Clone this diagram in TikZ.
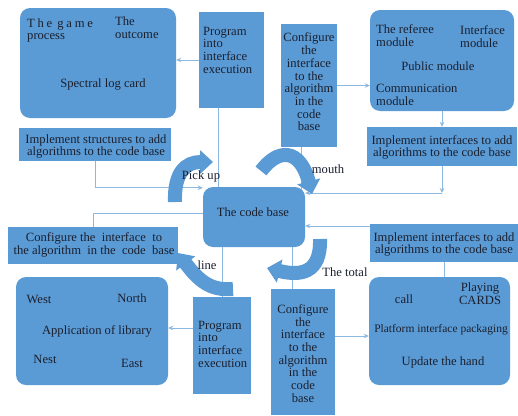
\documentclass[tikz,border=0pt]{standalone}
\usepackage{fontspec}
\setmainfont{Liberation Serif}
\usetikzlibrary{arrows.meta,fit}
\definecolor{boxc}{HTML}{5B9BD5}
\definecolor{linec}{HTML}{8DB8E0}
\definecolor{txtc}{HTML}{1A1F2E}
\tikzset{
  blk/.style={fill=boxc, draw=none, inner sep=0pt},
  rblk/.style={blk, rounded corners=10pt},
  lbl/.style={text=txtc, font=\fontsize{12.6}{12.7}\selectfont, inner sep=0pt, align=center},
  lbll/.style={lbl, align=left},
  conn/.style={draw=linec, line width=0.8pt},
  arr/.style={conn, -{Stealth[length=5pt,width=4.5pt]}},
  bigarr/.style={draw=boxc, line width=14pt, -{Triangle[length=13pt,width=23pt]}},
}
\begin{document}
\begin{tikzpicture}[x=1pt,y=-1pt]
\fill[white] (0,0) rectangle (518,415);
\useasboundingbox (0,0) rectangle (518,415);

% boxes
\node[rblk, fit={(20,8) (176,118)}] (game) {};
\node[blk, fit={(19,128) (171,161)}] (implA) {};
\node[blk, fit={(199,12) (264,108)}] (progA) {};
\node[blk, fit={(281,24) (337,147)}] (confA) {};
\node[rblk, fit={(370,10) (514,111)}] (ref) {};
\node[blk, fit={(367,127) (517,166)}] (implB) {};
\node[rblk, fit={(203,187) (305,247)}] (cb) {};
\node[blk, fit={(8,227) (178,264)}] (confB) {};
\node[rblk, fit={(16,277) (168,385)}] (app) {};
\node[blk, fit={(193,297) (251,394)}] (progB) {};
\node[blk, fit={(370,224) (518,262)}] (implC) {};
\node[rblk, fit={(369,277) (510,385)}] (play) {};
\node[blk, fit={(271,289) (335,415)}] (confC) {};

% connectors
\draw[arr] (progA.west) -- (progA.west -| game.east);
\coordinate (s2) at ([xshift=-13.5pt]progA.south);
\draw[conn] (s2) -- (s2 |- cb.north);
\coordinate (s3) at ([yshift=-1pt]cb.north west);
\draw[arr] (implA.south) |- (s3);
\draw[arr] (confA.east) -- (confA.east -| ref.west);
\coordinate (s5) at ([xshift=-8pt]confA.south);
\draw[conn] (s5) -- ([yshift=-3pt]s5 |- cb.north);
\draw[arr] (ref.south) -- (implB.north);
\coordinate (k1) at (442,193);
\draw[arr] (implB.south) -- (k1);
\draw[arr] (k1) -- (k1 -| cb.east);
\coordinate (s8) at ([yshift=4pt]cb.west);
\draw[conn] (s8) -| (confB.north);
\draw[conn] (progB.north |- cb.south) -- (progB.north);
\coordinate (s10) at ([yshift=17.5pt]progB.west);
\draw[arr] (s10) -- (s10 -| app.east);
\coordinate (s11) at ([yshift=17pt]implC.west);
\draw[arr] (s11) -- (s11 -| cb.east);
\draw[conn] (implC.south) -- (implC.south |- play.north);
\coordinate (s13) at ([xshift=-11pt]confC.north);
\draw[conn] (s13 |- cb.south) -- (s13);
\coordinate (s14) at ([yshift=16pt]confC.east);
\draw[arr] (s14) -- (s14 -| play.west);

% big curved arrows
\draw[bigarr] (175,202) .. controls (174,172) and (186,162) .. (213,162);
\draw[bigarr] (261,171) .. controls (278,148) and (300,148) .. (312,194);
\draw[bigarr] (320,239) .. controls (321,274) and (300,276) .. (267,268);
\draw[bigarr] (233,289) .. controls (210,291) and (198,280) .. (178,253);

% texts
\node[lbll, anchor=west] (g1) at (27,30.5) {{\addfontfeature{LetterSpace=22}The\hspace{0.4em}game}\\process};
\node[lbll, anchor=west] (g2) at (115,28) {The\\outcome};
\node[lbl] (g3) at (103,84) {Spectral log card};
\node[lbl] (ta) at (96,146.5) {Implement structures to add\\algorithms to the code base};
\node[lbll, anchor=west] (tp1) at (203,50) {Program\\into\\interface\\execution};
\node[lbl] (tc1) at (309,82) {Configure\\the\\interface\\to the\\algorithm\\in the\\code\\base};
\node[lbll, anchor=west] (r1) at (376,35.5) {The referee\\module};
\node[lbll, anchor=west] (r2) at (460,36.5) {Interface\\module};
\node[lbl] (r3) at (438,66) {Public module};
\node[lbll, anchor=west] (r4) at (376,95) {Communication\\module};
\node[lbl] (tb) at (442,147.5) {Implement interfaces to add\\algorithms to the code base};
\node[lbl] (tcb) at (253,212) {The code base};
\node[lbl] (tc2) at (94,245) {Configure the\ \ interface\ \ to\\the algorithm\ \ in the\ \ code\ \ base};
\node[lbl] (a1) at (39,299) {West};
\node[lbl] (a2) at (132,298) {North};
\node[lbl] (a3) at (97,331) {Application of library};
\node[lbl] (a4) at (45,359) {Nest};
\node[lbl] (a5) at (132,363) {East};
\node[lbll, anchor=west] (tp2) at (198,344) {Program\\into\\interface\\execution};
\node[lbl] (tic) at (444,244.5) {Implement interfaces to add\\algorithms to the code base};
\node[lbl] (p1) at (404,299) {call};
\node[lbl] (p2) at (480,294) {Playing\\CARDS};
\node[lbl, font=\fontsize{11.5}{12.7}\selectfont] (p3) at (441,330) {Platform interface packaging};
\node[lbl] (p4) at (443,362) {Update the hand};
\node[lbl] (tc3) at (303,353.5) {Configure\\the\\interface\\to the\\algorithm\\in the\\code\\base};

% arrow labels
\node[lbl] (lpick) at (201,176) {Pick up};
\node[lbl] (lmouth) at (328,169) {mouth};
\node[lbl] (ltotal) at (345,272) {The total};
\node[lbl] (lline) at (207,265) {line};
\end{tikzpicture}
\end{document}
